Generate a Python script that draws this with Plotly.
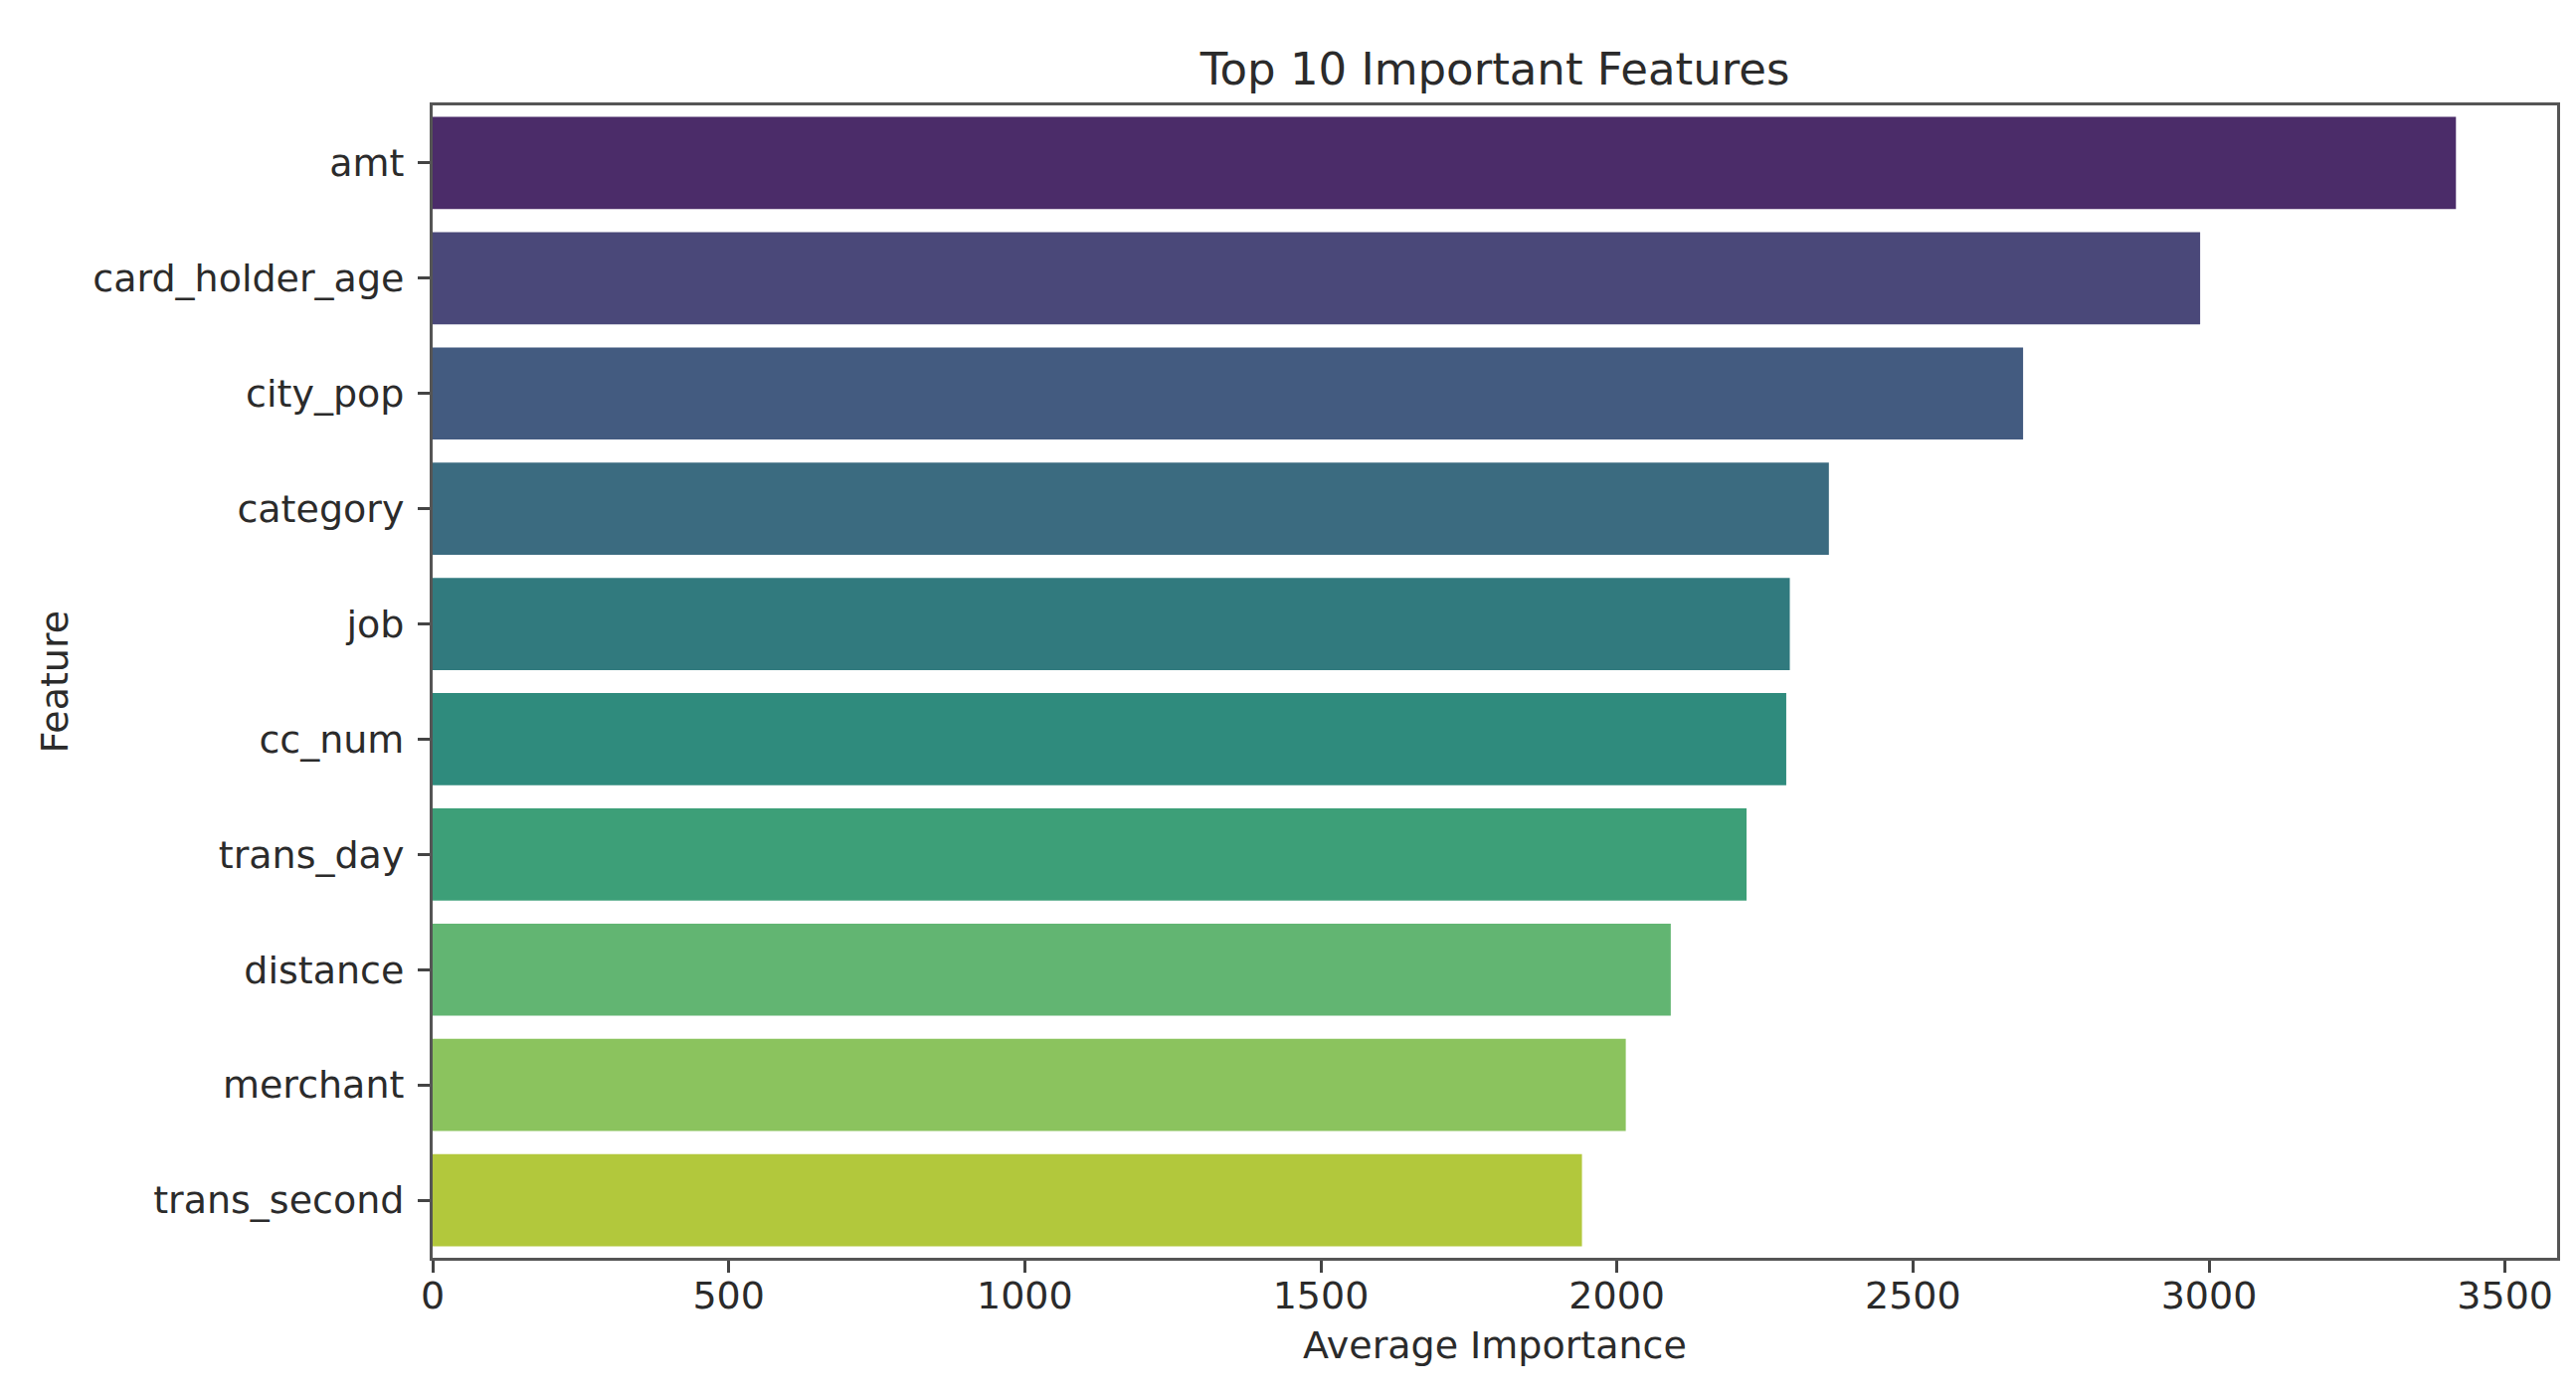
import plotly.graph_objects as go

# feature importances
features = ['amt', 'card_holder_age', 'city_pop', 'category', 'job',
            'cc_num', 'trans_day', 'distance', 'merchant', 'trans_second']
importance = [3417, 2985, 2686, 2358, 2292, 2286, 2219, 2091, 2015, 1941]
bar_colors = ['#4b2c69', '#4a4879', '#435b80', '#3b6b80', '#317a7e',
              '#2f8b7d', '#3d9f78', '#62b572', '#8bc35e', '#b2c83c']
x_ticks = [0, 500, 1000, 1500, 2000, 2500, 3000, 3500]

W, H = 2590, 1400
L, R, T, B = 427, 27, 98, 143
font = 'DejaVu Sans'
txt = '#2b2b2b'

fig = go.Figure()
fig.add_trace(go.Bar(
    x=importance, y=features, orientation='h',
    marker=dict(color=bar_colors, line=dict(width=0)),
    showlegend=False,
))

axis_common = dict(
    showline=True, mirror=True, linecolor='#555555', linewidth=3,
    ticks='outside', ticklen=12, tickwidth=3, tickcolor='#444444',
    showgrid=False, zeroline=False,
    tickfont=dict(family=font, size=38, color=txt),
)

fig.update_layout(
    width=W, height=H,
    margin=dict(l=L, r=R, t=T, b=B),
    paper_bgcolor='white', plot_bgcolor='white',
    bargap=0.2,
    title=dict(text='Top 10 Important Features', x=0.5, xref='paper',
               y=1 - 61 / H, yref='container', yanchor='middle',
               xanchor='center',
               font=dict(family=font, size=45, color=txt)),
    xaxis=dict(range=[0, max(importance) * 1.05], tickvals=x_ticks,
               ticklabelstandoff=-10, **axis_common),
    yaxis=dict(range=[len(features) - 0.5, -0.5], type='category',
               ticklabelstandoff=6, **axis_common),
    annotations=[
        dict(text='Average Importance', xref='paper', yref='paper',
             x=0.5, y=0, yshift=-88, xanchor='center',
             yanchor='middle', showarrow=False,
             font=dict(family=font, size=38, color=txt)),
        dict(text='Feature', xref='paper', yref='paper',
             x=0, y=0.5, xshift=-(L - 46), xanchor='center',
             yanchor='middle', textangle=-90, showarrow=False,
             font=dict(family=font, size=38, color=txt)),
    ],
)

fig.write_html('out.html')
